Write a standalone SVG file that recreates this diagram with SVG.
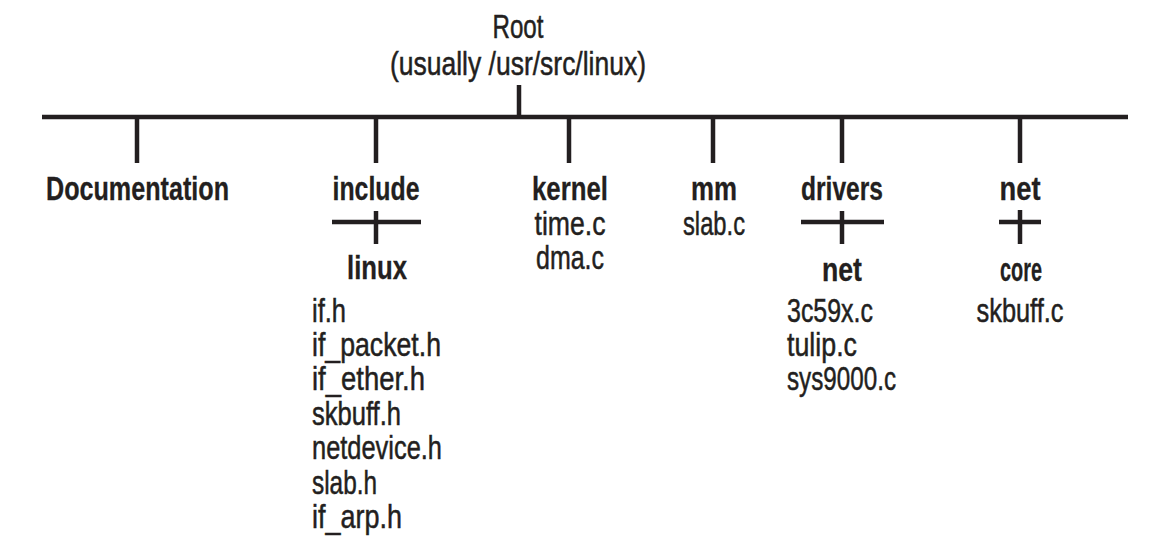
<svg xmlns="http://www.w3.org/2000/svg" width="1170" height="556" viewBox="0 0 1170 556">
<style>
text{font-family:"Liberation Sans Narrow","Liberation Sans",Arial,sans-serif;font-size:33px;fill:#231f20;stroke:#231f20;stroke-width:0.5}
.b{font-weight:bold;stroke-width:0.3}
.m{text-anchor:middle}
.ln{stroke:#231f20;stroke-width:4.5;fill:none}
</style>
<rect width="1170" height="556" fill="#ffffff"/>
<g id="connectors">
<line class="ln" x1="519" y1="85" x2="519" y2="117"/>
<line class="ln" x1="42" y1="117" x2="1128" y2="117"/>
<line class="ln" x1="137" y1="117" x2="137" y2="163"/>
<line class="ln" x1="376" y1="117" x2="376" y2="163"/>
<line class="ln" x1="569" y1="117" x2="569" y2="163"/>
<line class="ln" x1="713" y1="117" x2="713" y2="163"/>
<line class="ln" x1="842" y1="117" x2="842" y2="163"/>
<line class="ln" x1="1020" y1="117" x2="1020" y2="163"/>
<line class="ln" x1="332" y1="222" x2="421" y2="222"/>
<line class="ln" x1="376" y1="211" x2="376" y2="244"/>
<line class="ln" x1="801" y1="222" x2="884" y2="222"/>
<line class="ln" x1="842" y1="211" x2="842" y2="244"/>
<line class="ln" x1="999" y1="222" x2="1041" y2="222"/>
<line class="ln" x1="1020" y1="210" x2="1020" y2="244"/>
</g>
<g id="root">
<text class="m" x="518" y="38" textLength="51" lengthAdjust="spacingAndGlyphs">Root</text>
<text class="m" x="518" y="75" textLength="256" lengthAdjust="spacingAndGlyphs">(usually /usr/src/linux)</text>
</g>
<g id="documentation">
<text class="b" x="46" y="200" textLength="183" lengthAdjust="spacingAndGlyphs">Documentation</text>
</g>
<g id="include">
<text class="b m" x="376" y="200" textLength="87" lengthAdjust="spacingAndGlyphs">include</text>
</g>
<g id="include-linux">
<text class="b m" x="377" y="279" textLength="60" lengthAdjust="spacingAndGlyphs">linux</text>
<text x="312" y="322" textLength="34" lengthAdjust="spacingAndGlyphs">if.h</text>
<text x="312" y="356" textLength="129" lengthAdjust="spacingAndGlyphs">if_packet.h</text>
<text x="312" y="390" textLength="113" lengthAdjust="spacingAndGlyphs">if_ether.h</text>
<text x="312" y="425" textLength="89" lengthAdjust="spacingAndGlyphs">skbuff.h</text>
<text x="312" y="459" textLength="130" lengthAdjust="spacingAndGlyphs">netdevice.h</text>
<text x="312" y="494" textLength="65" lengthAdjust="spacingAndGlyphs">slab.h</text>
<text x="312" y="528" textLength="90" lengthAdjust="spacingAndGlyphs">if_arp.h</text>
</g>
<g id="kernel">
<text class="b m" x="570" y="200" textLength="76" lengthAdjust="spacingAndGlyphs">kernel</text>
<text class="m" x="570" y="235" textLength="71" lengthAdjust="spacingAndGlyphs">time.c</text>
<text class="m" x="570" y="269" textLength="68" lengthAdjust="spacingAndGlyphs">dma.c</text>
</g>
<g id="mm">
<text class="b m" x="714" y="200" textLength="46" lengthAdjust="spacingAndGlyphs">mm</text>
<text class="m" x="714" y="235" textLength="62" lengthAdjust="spacingAndGlyphs">slab.c</text>
</g>
<g id="drivers">
<text class="b m" x="842" y="200" textLength="82" lengthAdjust="spacingAndGlyphs">drivers</text>
</g>
<g id="drivers-net">
<text class="b m" x="842" y="281" textLength="40" lengthAdjust="spacingAndGlyphs">net</text>
<text x="787" y="322" textLength="86" lengthAdjust="spacingAndGlyphs">3c59x.c</text>
<text x="787" y="356" textLength="70" lengthAdjust="spacingAndGlyphs">tulip.c</text>
<text x="787" y="390" textLength="109" lengthAdjust="spacingAndGlyphs">sys9000.c</text>
</g>
<g id="net">
<text class="b m" x="1020" y="200" textLength="41" lengthAdjust="spacingAndGlyphs">net</text>
</g>
<g id="net-core">
<text class="b m" x="1021" y="281" textLength="42" lengthAdjust="spacingAndGlyphs">core</text>
<text class="m" x="1020" y="322" textLength="87" lengthAdjust="spacingAndGlyphs">skbuff.c</text>
</g>
</svg>
